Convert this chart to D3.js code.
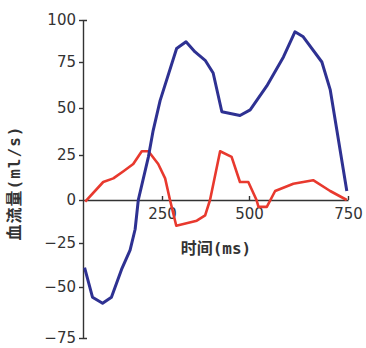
<!DOCTYPE html>
<html>
<head>
<meta charset="utf-8">
<script src="https://cdn.jsdelivr.net/npm/d3@7/dist/d3.min.js"></script>
<style>
  html, body { margin: 0; padding: 0; background: #fff; }
  svg { display: block; }
</style>
</head>
<body>
<svg id="chart"></svg>
<script>
// series (time in ms, flow in ml/s)
const blueTime = [5, 30, 62, 90, 122, 149, 165, 175, 207, 222, 244, 292, 319, 345, 374, 397, 422, 474, 503, 545, 587, 616, 637, 684, 705, 722, 747];
const blueFlow = [-39, -55, -58, -55, -40, -29, -17, 0, 24, 38, 54, 83, 87, 81, 76, 69, 48, 46, 49, 62, 78, 93, 90, 75, 60, 38, 5];

const redTime = [7, 64, 96, 128, 159, 186, 207, 238, 259, 273, 291, 350, 374, 388, 417, 450, 474, 498, 519, 524, 545, 566, 612, 662, 705, 747];
const redFlow = [-1, 10, 12, 16, 20, 27, 27, 20, 12, 0, -15, -12, -9, 0, 27, 24, 10, 10, 0, -4, -4, 5, 9, 11, 5, 0];

const xTicks = [250, 500, 750];
const yTicks = [-75, -50, -25, 0, 25, 50, 75, 100];

const xLabel = "时间(ms)";
const yLabel = "血流量(ml/s)";

const width = 366;
const height = 348;

const svg = d3.select('#chart')
    .attr('width', width)
    .attr('height', height);

// the printed figure's tick spacing is uneven, so both scales are piecewise
const x = d3.scaleLinear()
    .domain([0, 250, 500, 750])
    .range([83, 162, 249, 348]);

const y = d3.scaleLinear()
    .domain(yTicks)
    .range([338, 287, 243, 200, 155, 108, 62, 20]);

const axisColor = "#333";
const numFont = "'DejaVu Sans', sans-serif";
const cjkFont = "'DejaVu Sans Mono', 'Noto Sans CJK SC', sans-serif";

// y axis
const yAxis = svg.append("g")
    .attr("transform", `translate(${x(0)},0)`)
    .call(d3.axisLeft(y)
        .tickValues(yTicks)
        .tickSizeInner(4)
        .tickSizeOuter(-4)
        .tickPadding(3));

// x axis sits on the zero line
const xAxis = svg.append("g")
    .attr("transform", `translate(0,${y(0)})`)
    .call(d3.axisBottom(x)
        .tickValues(xTicks)
        .tickSizeInner(-4)
        .tickSizeOuter(0)
        .tickPadding(8));

[yAxis, xAxis].forEach(g => {
    g.select(".domain").attr("stroke", axisColor).attr("stroke-width", 1.4);
    g.selectAll(".tick line").attr("stroke", axisColor).attr("stroke-width", 1.4);
    g.selectAll(".tick text")
        .attr("fill", axisColor)
        .attr("font-family", numFont)
        .attr("font-size", 15);
});

const line = d3.line()
    .x(d => x(d[0]))
    .y(d => y(d[1]));

svg.append("path")
    .datum(d3.zip(redTime, redFlow))
    .attr("fill", "none")
    .attr("stroke", "#e8392e")
    .attr("stroke-width", 2.6)
    .attr("stroke-linejoin", "round")
    .attr("d", line);

svg.append("path")
    .datum(d3.zip(blueTime, blueFlow))
    .attr("fill", "none")
    .attr("stroke", "#2e3192")
    .attr("stroke-width", 3)
    .attr("stroke-linejoin", "round")
    .attr("d", line);

// axis titles
svg.append("text")
    .attr("x", 216)
    .attr("y", 254)
    .attr("text-anchor", "middle")
    .attr("font-family", cjkFont)
    .attr("font-weight", "bold")
    .attr("font-size", 16)
    .attr("fill", axisColor)
    .text(xLabel);

svg.append("text")
    .attr("transform", "translate(20,183) rotate(-90)")
    .attr("text-anchor", "middle")
    .attr("font-family", cjkFont)
    .attr("font-weight", "bold")
    .attr("font-size", 16)
    .attr("letter-spacing", 1)
    .attr("fill", axisColor)
    .text(yLabel);
</script>
</body>
</html>
